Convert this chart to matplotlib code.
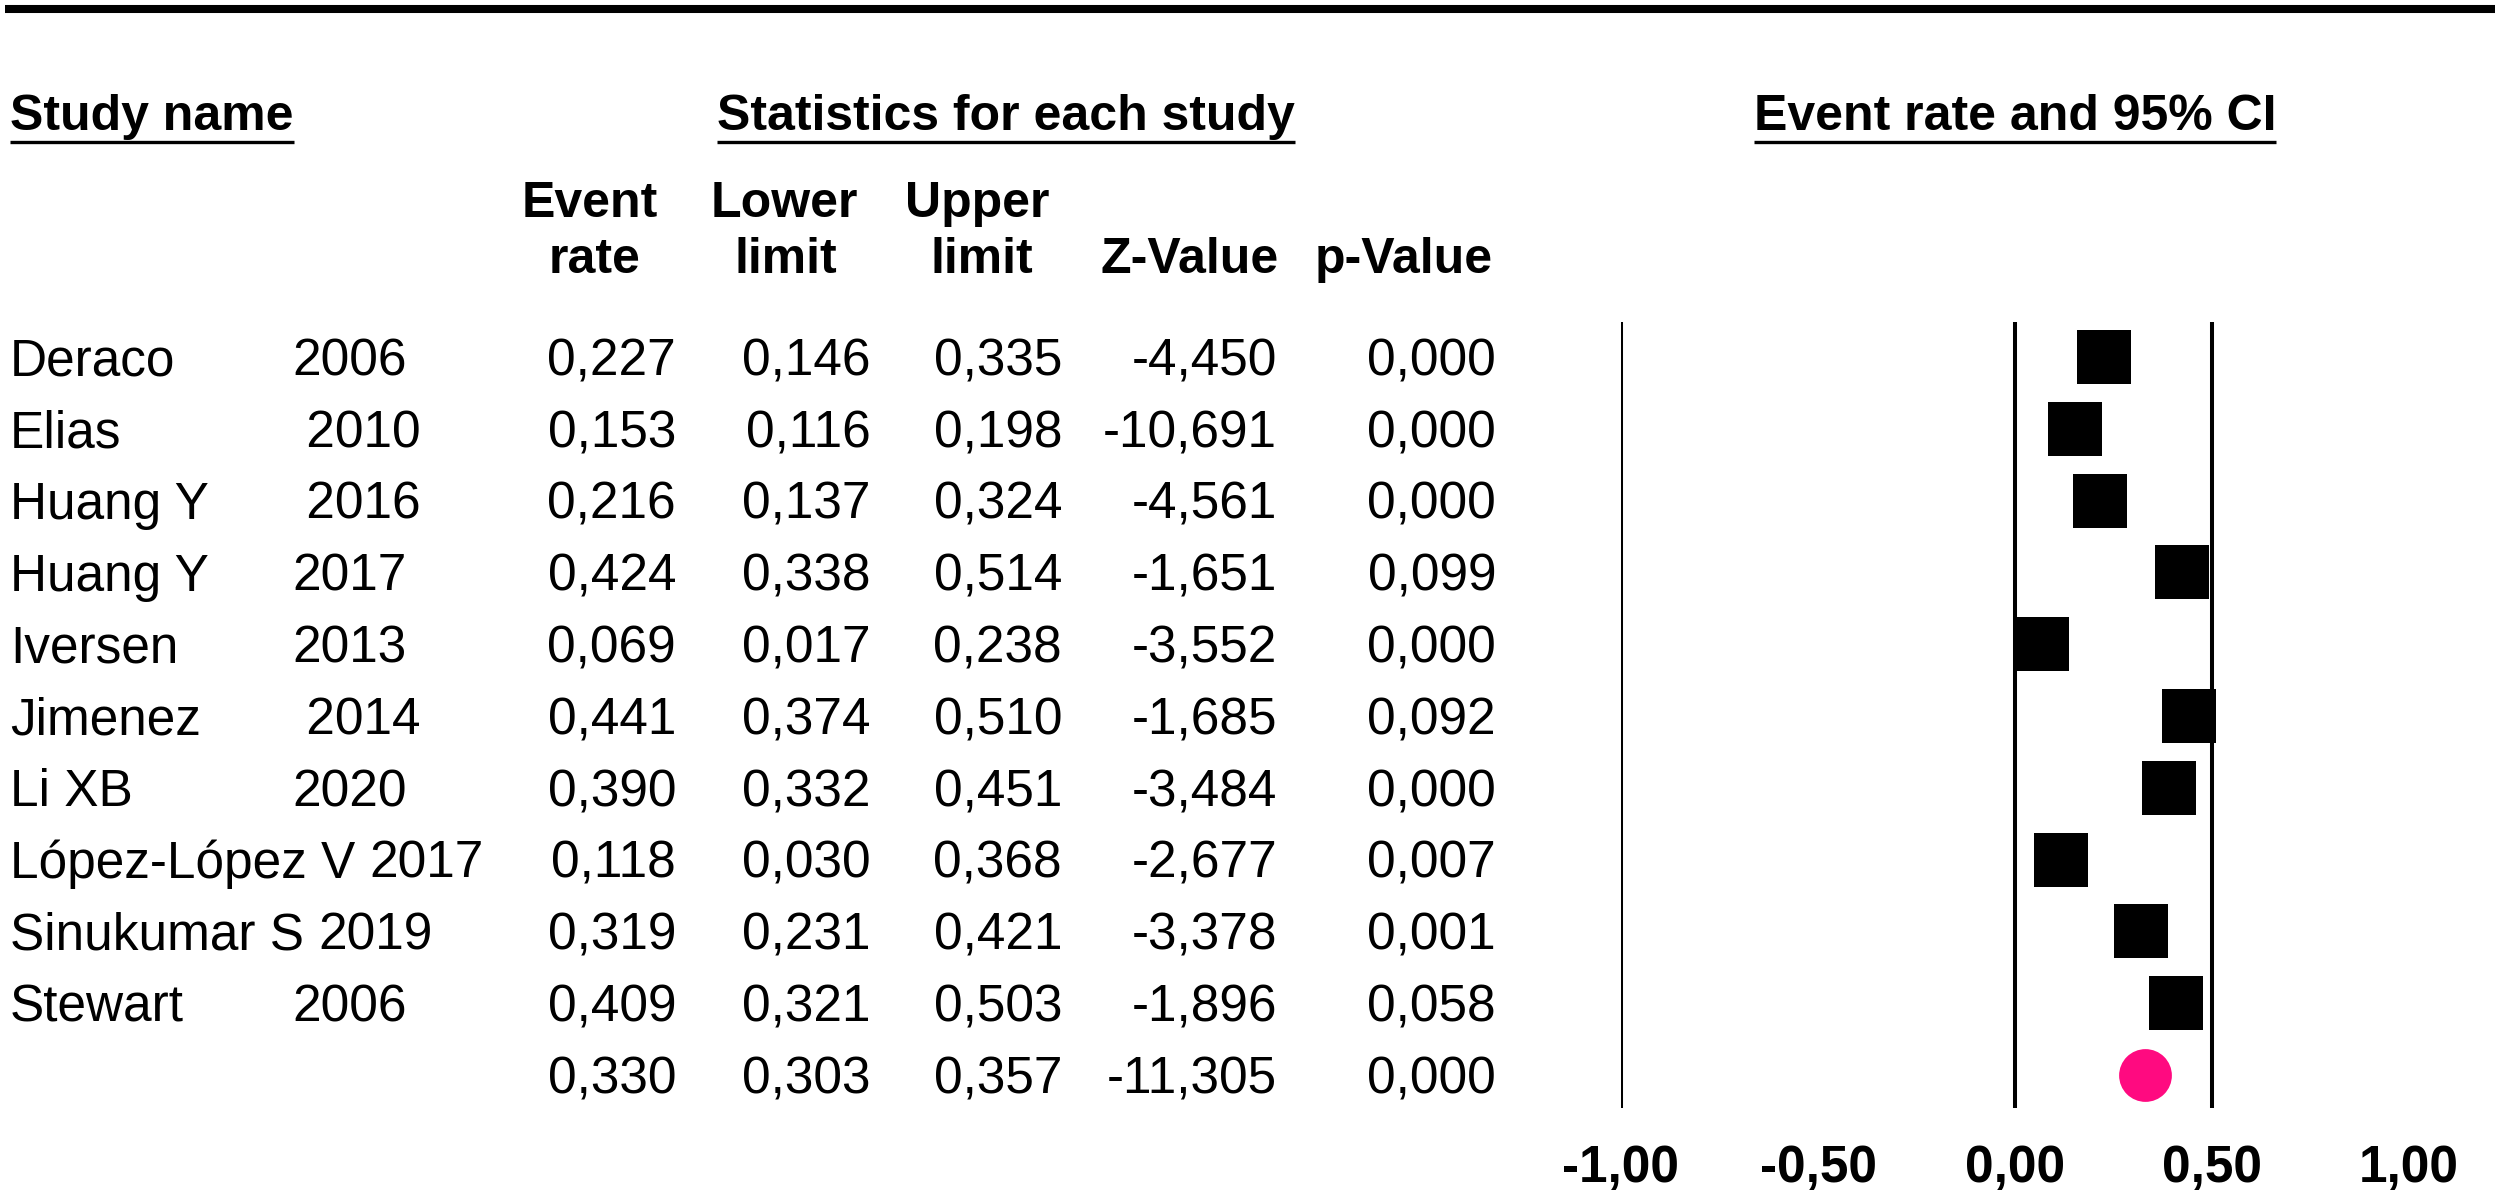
import matplotlib
matplotlib.use('Agg')
import matplotlib.pyplot as plt
from matplotlib.lines import Line2D
from matplotlib.transforms import offset_copy

plt.rcParams['font.family'] = ['Liberation Sans', 'DejaVu Sans']

# data
studies = ['Deraco', 'Elias', 'Huang Y', 'Huang Y', 'Iversen', 'Jimenez',
           'Li XB', 'López-López V', 'Sinukumar S', 'Stewart']
years = ['2006', ' 2010', ' 2016', '2017', '2013', ' 2014',
         '2020', '2017', '2019', '2006']
event_rate = [0.227, 0.153, 0.216, 0.424, 0.069, 0.441, 0.390, 0.118, 0.319, 0.409]
lower_limit = [0.146, 0.116, 0.137, 0.338, 0.017, 0.374, 0.332, 0.030, 0.231, 0.321]
upper_limit = [0.335, 0.198, 0.324, 0.514, 0.238, 0.510, 0.451, 0.368, 0.421, 0.503]
z_value = [-4.450, -10.691, -4.561, -1.651, -3.552, -1.685, -3.484, -2.677, -3.378, -1.896]
p_value = [0.000, 0.000, 0.000, 0.099, 0.000, 0.092, 0.000, 0.007, 0.001, 0.058]
pooled = [0.330, 0.303, 0.357, -11.305, 0.000]
ticks = [-1.0, -0.5, 0.0, 0.5, 1.0]

W, H, DPI = 2500, 1201, 100
ROW0, ROW_H = 357, 71.8          # pixel centre of first row, row pitch
FS = 37                          # body text
FSB = 36                         # bold headers
CAP = 0.716 * FS / 72 * DPI      # cap height in px
CAPB = 0.716 * FSB / 72 * DPI


def fmt(v, nd=3):
    return '{:.{}f}'.format(v, nd).replace('.', ',')


def px2row(y):
    return (y - ROW0) / ROW_H


fig = plt.figure(figsize=(W / DPI, H / DPI), dpi=DPI)
fig.patch.set_facecolor('white')

# table part, pixel coordinates
ax_t = fig.add_axes([0, 0, 1, 1])
ax_t.set_xlim(0, W)
ax_t.set_ylim(H, 0)
ax_t.axis('off')

# forest part, effect size on x, row index on y
x_left, x_right = 1621, 2409
ax_f = fig.add_axes([x_left / W, 0, (x_right - x_left) / W, 1])
ax_f.set_xlim(-1, 1)
ax_f.set_ylim(px2row(H), px2row(0))
ax_f.axis('off')

# thick rule at the top
fig.add_artist(Line2D([5 / W, 2495 / W], [1 - 9 / H, 1 - 9 / H],
                      color='black', lw=5.8, solid_capstyle='butt'))

bold = dict(fontsize=FSB, fontweight='bold', color='black')
reg = dict(fontsize=FS, color='black')

# section headers
hdr_base = 112 + CAPB / 2
h1 = ax_t.text(10, hdr_base, 'Study name', ha='left', va='baseline', **bold)
h2 = ax_t.text(1006, hdr_base, 'Statistics for each study', ha='center', va='baseline', **bold)
h3 = ax_f.text(0, px2row(hdr_base), 'Event rate and 95% CI', ha='center', va='baseline', **bold)

# column headers
line1 = 199 + CAPB / 2
line2 = 255 + CAPB / 2
for x, s in [(590, 'Event'), (784, 'Lower'), (977, 'Upper')]:
    ax_t.text(x, line1, s, ha='center', va='baseline', **bold)
for x, s in [(595, 'rate'), (786, 'limit'), (982, 'limit'), (1190, 'Z-Value'), (1404, 'p-Value')]:
    ax_t.text(x, line2, s, ha='center', va='baseline', **bold)

renderer = fig.canvas.get_renderer()

# underline the section headers
for t in (h1, h2, h3):
    bb = t.get_window_extent(renderer)
    yy = (bb.y0 - 2) / H
    fig.add_artist(Line2D([bb.x0 / W, bb.x1 / W], [yy, yy], color='black', lw=2.4,
                          solid_capstyle='butt'))

cols_right = [676, 871, 1062, 1277, 1496]
year_col = 292

for i, name in enumerate(studies):
    yb = ROW0 + ROW_H * i + CAP / 2
    nt = ax_t.text(10, yb, name, ha='left', va='baseline', **reg)
    bb = nt.get_window_extent(renderer)
    yx = max(year_col, bb.x1 + 14)
    ax_t.text(yx, yb, years[i], ha='left', va='baseline', **reg)
    vals = [event_rate[i], lower_limit[i], upper_limit[i], z_value[i], p_value[i]]
    for x, v in zip(cols_right, vals):
        ax_t.text(x, yb, fmt(v), ha='right', va='baseline', **reg)

# pooled row
yb = ROW0 + ROW_H * len(studies) + CAP / 2
for x, v in zip(cols_right, pooled):
    ax_t.text(x, yb, fmt(v), ha='right', va='baseline', **reg)

# reference lines
ax_f.vlines([-1, 0, 0.5], px2row(322), px2row(1108), color='black', lw=2.9)

rows = list(range(len(studies)))
ax_f.plot(event_rate, rows, 's', ms=39, color='black', mew=0, clip_on=False)
ax_f.plot([pooled[0]], [len(studies)], 'o', ms=38, color='#ff0a80', mew=0, clip_on=False)

# axis labels under the plot
lab_trans = offset_copy(ax_f.transData, fig=fig, y=-CAPB / 2, units='dots')
for t in ticks:
    ax_f.text(t, px2row(1164), fmt(t, 2), ha='center', va='baseline',
              transform=lab_trans, fontsize=37, fontweight='bold', color='black')

fig.savefig('out.png', dpi=DPI, facecolor='white')
